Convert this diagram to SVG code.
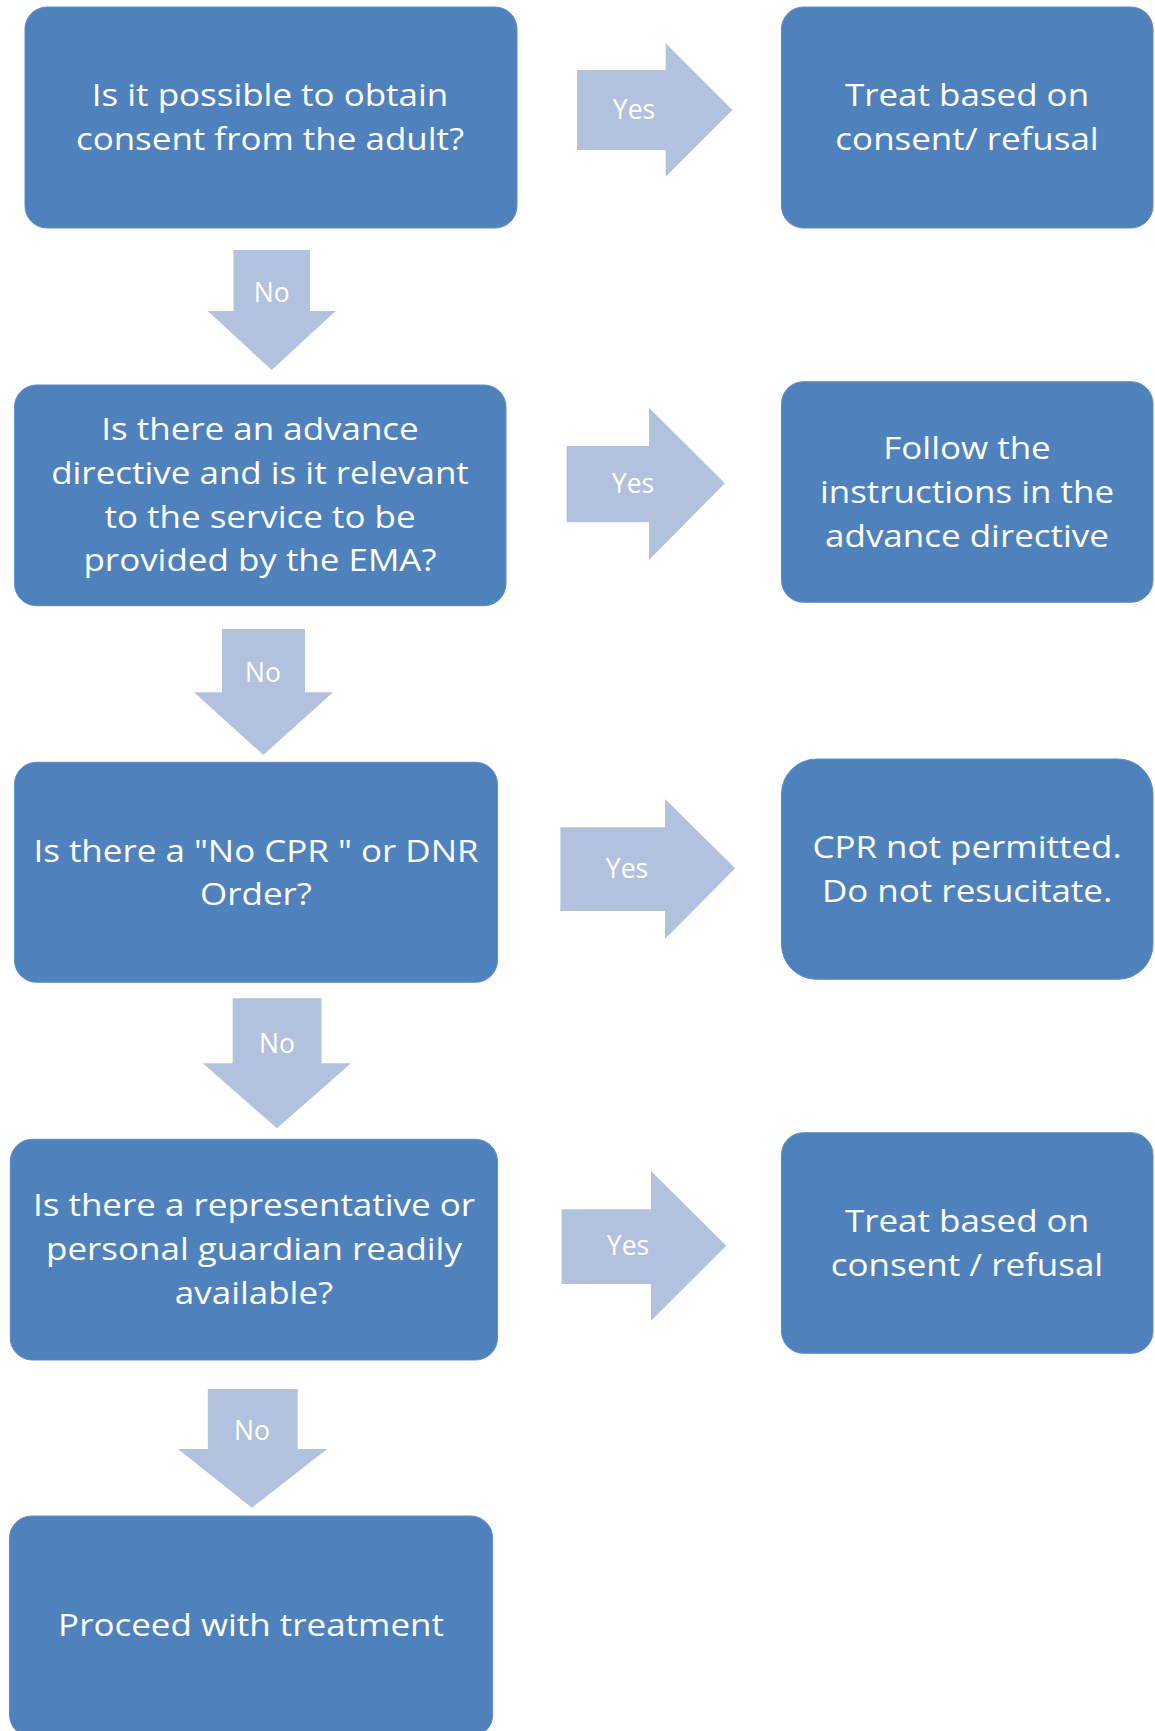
<svg xmlns="http://www.w3.org/2000/svg" width="1155" height="1731" viewBox="0 0 1155 1731">
<style>
.box{fill:#4F81BD;stroke:#5B8CC6;stroke-width:1}
.arr{fill:#B2C2DE}
.t{font-family:"Open Sans","Noto Sans","Liberation Sans",sans-serif;font-size:30.8px;fill:#FFFFFF;text-anchor:middle}
.l{font-family:"Open Sans","Noto Sans","Liberation Sans",sans-serif;font-size:26.5px;fill:#FFFFFF;text-anchor:middle}
</style>
<rect width="1155" height="1731" fill="#FFFFFF"/>
<g id="connectors">
<g id="yes1"><polygon class="arr" points="577,70 665.7,70 665.7,43.3 732.5,110 665.7,176.7 665.7,150 577,150"/><text class="l" x="634" y="119">Yes</text></g>
<g id="yes2"><polygon class="arr" points="566.6,446 649,446 649,407.7 724.8,483.3 649,560 649,522.3 566.6,522.3"/><text class="l" x="633" y="492.7">Yes</text></g>
<g id="yes3"><polygon class="arr" points="560.4,827.3 665,827.3 665,799 735.2,868.3 665,939 665,911 560.4,911"/><text class="l" x="627" y="877.7">Yes</text></g>
<g id="yes4"><polygon class="arr" points="561.6,1209.3 651,1209.3 651,1171 726.3,1245.7 651,1320.7 651,1284 561.6,1284"/><text class="l" x="628" y="1255">Yes</text></g>
<g id="no1"><polygon class="arr" points="233.4,250 310,250 310,311 335.6,311 271.7,370 207.8,311 233.4,311"/><text class="l" x="271.7" y="301.7">No</text></g>
<g id="no2"><polygon class="arr" points="222,629 305,629 305,692.3 333,692.3 263.3,755 194,692.3 222,692.3"/><text class="l" x="263" y="681.7">No</text></g>
<g id="no3"><polygon class="arr" points="232.7,998.3 321.5,998.3 321.5,1063.3 351,1063.3 277,1128.3 202.8,1063.3 232.7,1063.3"/><text class="l" x="277" y="1052.7">No</text></g>
<g id="no4"><polygon class="arr" points="207.8,1389 297.7,1389 297.7,1449 327.2,1449 251.8,1507.7 178,1449 207.8,1449"/><text class="l" x="252" y="1440">No</text></g>
</g>
<g id="q1"><rect class="box" x="25" y="7" width="492" height="221" rx="22"/>
<g transform="matrix(1.135,0,0,1,270,0)"><text class="t" x="0" y="106">Is it possible to obtain</text><text class="t" x="0" y="150">consent from the adult?</text></g></g>
<g id="r1"><rect class="box" x="781.5" y="7" width="371.5" height="221" rx="22"/>
<g transform="matrix(1.135,0,0,1,967,0)"><text class="t" x="0" y="106">Treat based on</text><text class="t" x="0" y="150">consent/ refusal</text></g></g>
<g id="q2"><rect class="box" x="14.5" y="385" width="491.5" height="220.7" rx="22"/>
<g transform="matrix(1.135,0,0,1,260,0)"><text class="t" x="0" y="440">Is there an advance</text><text class="t" x="0" y="484.3">directive and is it relevant</text><text class="t" x="0" y="527.7">to the service to be</text><text class="t" x="0" y="571">provided by the EMA?</text></g></g>
<g id="r2"><rect class="box" x="781.5" y="381.7" width="371.5" height="220.6" rx="22"/>
<g transform="matrix(1.135,0,0,1,967,0)"><text class="t" x="0" y="459.3">Follow the</text><text class="t" x="0" y="503.3">instructions in the</text><text class="t" x="0" y="547">advance directive</text></g></g>
<g id="q3"><rect class="box" x="14.5" y="762.3" width="483" height="220" rx="22"/>
<g transform="matrix(1.135,0,0,1,256,0)"><text class="t" x="0" y="862">Is there a "No CPR " or DNR</text><text class="t" x="0" y="905">Order?</text></g></g>
<g id="r3"><rect class="box" x="781.5" y="759" width="371.5" height="220.3" rx="35"/>
<g transform="matrix(1.135,0,0,1,967,0)"><text class="t" x="0" y="858.3">CPR not permitted.</text><text class="t" x="0" y="901.6">Do not resucitate.</text></g></g>
<g id="q4"><rect class="box" x="10.3" y="1139.3" width="487.2" height="220.7" rx="22"/>
<g transform="matrix(1.135,0,0,1,254,0)"><text class="t" x="0" y="1216">Is there a representative or</text><text class="t" x="0" y="1260.3">personal guardian readily</text><text class="t" x="0" y="1304.3">available?</text></g></g>
<g id="r4"><rect class="box" x="781.5" y="1132.7" width="371.5" height="220.6" rx="22"/>
<g transform="matrix(1.135,0,0,1,967,0)"><text class="t" x="0" y="1231.6">Treat based on</text><text class="t" x="0" y="1276">consent / refusal</text></g></g>
<g id="end"><rect class="box" x="9.6" y="1516" width="483" height="221" rx="22"/>
<g transform="matrix(1.135,0,0,1,251,0)"><text class="t" x="0" y="1636">Proceed with treatment</text></g></g>
</svg>
